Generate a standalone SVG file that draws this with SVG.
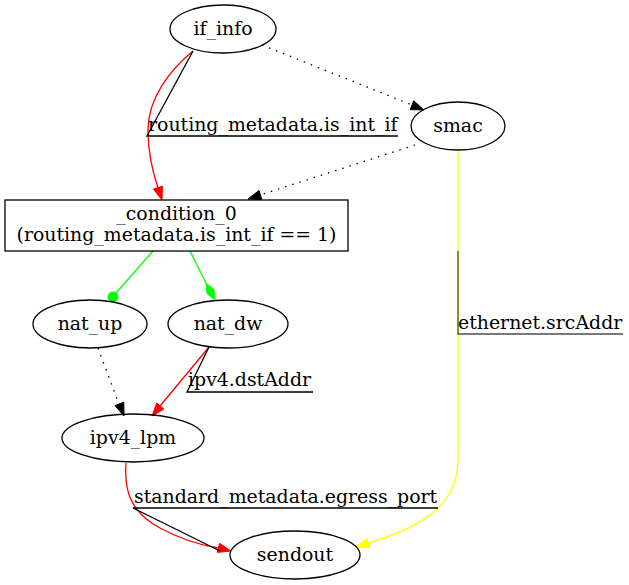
<svg xmlns="http://www.w3.org/2000/svg" width="629" height="585" viewBox="0 0 629 585">
<style>
text{font-family:"DejaVu Serif","Liberation Serif",serif;font-size:18.9px;fill:#000}
.n{text-anchor:middle}
.node ellipse,.node rect{fill:none;stroke:#000;stroke-width:1.3}
.e{fill:none;stroke-width:1.3}
.dot{stroke-dasharray:1.5,6}
</style>
<rect width="629" height="585" fill="#fff"/>
<g id="connectors">
  <!-- if_info -> _condition_0 -->
  <path class="e" stroke="#ff0000" d="M193,51 C170,70 148,98 148,130 C148,152 152,170 158,188"/>
  <polygon fill="#ff0000" stroke="#ff0000" points="162,200 162.4,186.2 153.4,189.1"/>
  <path class="e" stroke="#000" d="M193,51 L147,136 L398,136"/>
  <text x="148" y="131">routing_metadata.is_int_if</text>
  <!-- if_info -> smac -->
  <path class="e dot" stroke="#000" d="M262,45 L412,105"/>
  <polygon fill="#000" stroke="#000" points="424,110 410.2,109.6 413.7,100.8"/>
  <!-- smac -> _condition_0 -->
  <path class="e dot" stroke="#000" d="M415,145 L260,195"/>
  <polygon fill="#000" stroke="#000" points="248,199 259,190.5 261.9,199.5"/>
  <!-- _condition_0 -> nat_up -->
  <path class="e" stroke="#00ff00" d="M153,251 L116,293"/>
  <circle cx="113" cy="297" r="5" fill="#00ff00" stroke="#00ff00"/>
  <!-- _condition_0 -> nat_dw -->
  <path class="e" stroke="#00ff00" d="M190,251 L206,283"/>
  <polygon fill="#00ff00" stroke="#00ff00" points="206,283 214,289.6 215,300 207,293.4"/>
  <!-- nat_up -> ipv4_lpm -->
  <path class="e dot" stroke="#000" d="M98,348 L119,404"/>
  <polygon fill="#000" stroke="#000" points="124,416 123.8,402.2 115,405.6"/>
  <!-- nat_dw -> ipv4_lpm -->
  <path class="e" stroke="#ff0000" d="M209,347 L160,406"/>
  <polygon fill="#ff0000" stroke="#ff0000" points="152,416 163.9,409 156.7,403"/>
  <path class="e" stroke="#000" d="M209,347 L187,392 L313,392"/>
  <text x="188" y="386">ipv4.dstAddr</text>
  <!-- smac -> sendout -->
  <path class="e" stroke="#ffff00" d="M458,150 L458,460 C458,510 412,530 368,543"/>
  <polygon fill="#ffff00" stroke="#ffff00" points="356,547 367,538.6 369.8,547.6"/>
  <path class="e" stroke="#000" stroke-opacity="0.7" d="M458,251 L458,334 L623,334"/>
  <text x="458" y="329">ethernet.srcAddr</text>
  <!-- ipv4_lpm -> sendout -->
  <path class="e" stroke="#ff0000" d="M126,463 C124,490 130,512 160,528 C182,540 200,545 218,548"/>
  <polygon fill="#ff0000" stroke="#ff0000" points="231,551 217.3,552.4 219.5,543.3"/>
  <path class="e" stroke="#000" d="M220,551 L133,508 L438,508"/>
  <text x="134" y="503">standard_metadata.egress_port</text>
</g>
<g id="if_info" class="node"><ellipse cx="223" cy="29" rx="53" ry="24"/><text class="n" x="223" y="35">if_info</text></g>
<g id="smac" class="node"><ellipse cx="458" cy="126" rx="47" ry="24"/><text class="n" x="458" y="132">smac</text></g>
<g id="_condition_0" class="node"><rect x="5" y="200" width="343" height="51"/><text class="n" x="176.5" y="219.5">_condition_0</text><text class="n" x="176.5" y="240.5">(routing_metadata.is_int_if == 1)</text></g>
<g id="nat_up" class="node"><ellipse cx="90" cy="324" rx="57" ry="24"/><text class="n" x="90" y="330">nat_up</text></g>
<g id="nat_dw" class="node"><ellipse cx="228" cy="324" rx="60" ry="24"/><text class="n" x="228" y="330">nat_dw</text></g>
<g id="ipv4_lpm" class="node"><ellipse cx="133" cy="438" rx="71" ry="24"/><text class="n" x="133" y="444">ipv4_lpm</text></g>
<g id="sendout" class="node"><ellipse cx="295" cy="555" rx="65" ry="24"/><text class="n" x="295" y="561">sendout</text></g>
</svg>
